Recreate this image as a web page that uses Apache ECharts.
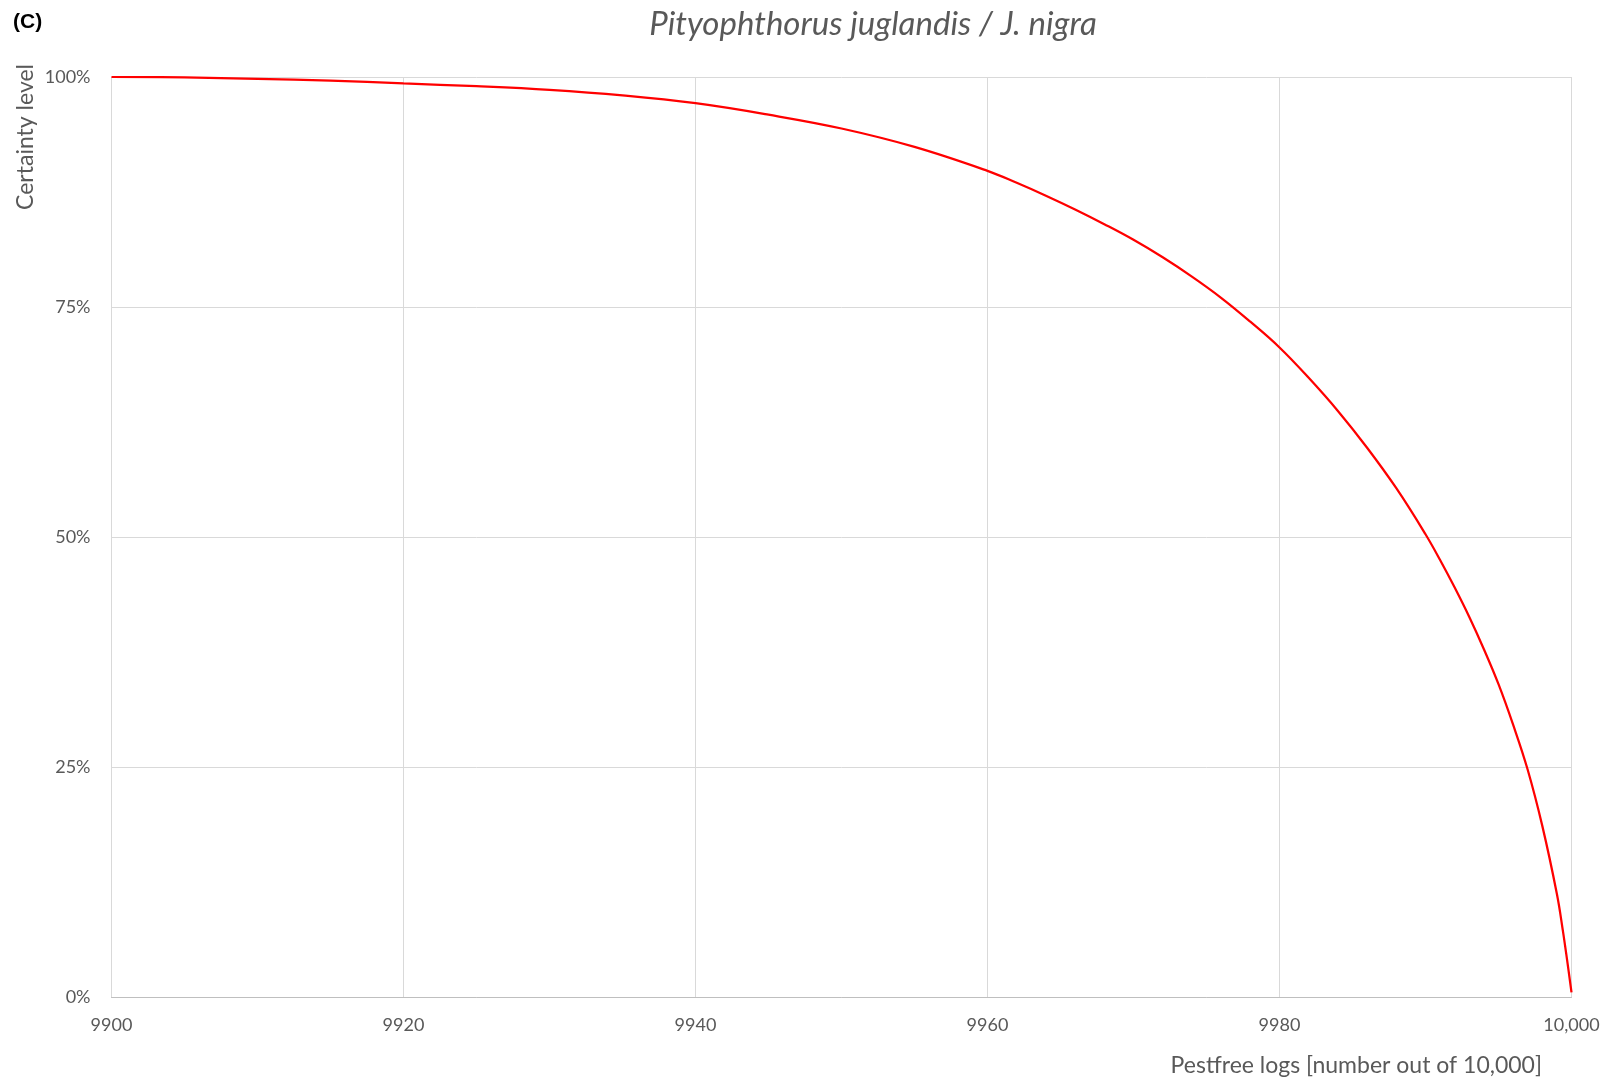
<!DOCTYPE html>
<html>
<head>
<meta charset="utf-8">
<script src="https://cdn.jsdelivr.net/npm/echarts@6/dist/echarts.min.js"></script>
<style>
html, body { margin: 0; padding: 0; background: #fff; }
#chart { width: 1610px; height: 1081px; }
</style>
</head>
<body>
<div id="chart"></div>
<script>
// 读图得到的数据
let pestfreeLogs = [9900, 9905, 9910, 9915, 9920, 9925, 9930, 9935, 9940, 9945, 9950, 9955, 9960, 9962, 9964, 9966, 9968, 9970, 9972, 9974, 9976, 9978, 9980, 9982, 9984, 9986, 9988, 9990, 9991, 9992, 9993, 9994, 9995, 9996, 9997, 9998, 9999, 9999.4, 9999.7, 10000];
let certainty = [100, 99.95, 99.8, 99.6, 99.3, 99.0, 98.6, 98.0, 97.15, 95.9, 94.4, 92.4, 89.8, 88.5, 87.1, 85.6, 84.0, 82.3, 80.4, 78.3, 76.0, 73.4, 70.6, 67.3, 63.7, 59.7, 55.3, 50.3, 47.5, 44.5, 41.3, 37.8, 34.0, 29.6, 24.7, 18.6, 11.2, 7.3, 4.0, 0.5];
let xTicks = [9900, 9920, 9940, 9960, 9980, 10000];
let yTicks = [0, 25, 50, 75, 100];

let chart = echarts.init(document.getElementById('chart'));
let seriesData = [];
for (let i = 0; i < pestfreeLogs.length; i++) {
    seriesData.push([pestfreeLogs[i], certainty[i]]);
}
let textColor = '#595959';
let option = {
    backgroundColor: '#fff',
    animation: false,
    title: {
        text: 'Pityophthorus juglandis / J. nigra',
        left: 868,
        top: 3,
        textAlign: 'center',
        textStyle: {
            color: textColor,
            fontFamily: 'Lato',
            fontStyle: 'italic',
            fontWeight: 'normal',
            fontSize: 33
        }
    },
    graphic: [
        {
            type: 'text',
            x: 13, y: 22,
            style: {
                text: '(C)',
                fill: '#000',
                font: 'bold 21px "Liberation Sans", Arial',
                align: 'left',
                verticalAlign: 'middle'
            }
        },
        {
            type: 'text',
            x: 26, y: 64,
            rotation: Math.PI / 2,
            style: {
                text: 'Certainty level',
                fill: textColor,
                font: '23px Lato',
                align: 'right',
                verticalAlign: 'middle'
            }
        },
        {
            type: 'text',
            x: 1542, y: 1066,
            style: {
                text: 'Pestfree logs [number out of 10,000]',
                fill: textColor,
                font: '23px Lato',
                align: 'right',
                verticalAlign: 'middle'
            }
        }
    ],
    grid: {
        left: 111.5,
        right: 38.5,
        top: 77,
        bottom: 84,
        containLabel: false
    },
    xAxis: {
        type: 'value',
        min: xTicks[0],
        max: xTicks[xTicks.length - 1],
        interval: 20,
        axisLine: { show: true, lineStyle: { color: '#bfbfbf', width: 1 } },
        axisTick: { show: false },
        axisLabel: {
            color: textColor,
            fontFamily: 'Lato',
            fontSize: 18,
            margin: 19,
            formatter: function (v) {
                return v >= 10000 ? v.toLocaleString('en-US') : String(v);
            }
        },
        splitLine: { show: true, lineStyle: { color: '#d9d9d9', width: 1 } }
    },
    yAxis: {
        type: 'value',
        min: yTicks[0],
        max: yTicks[yTicks.length - 1],
        interval: 25,
        axisLine: { show: false },
        axisTick: { show: false },
        axisLabel: {
            color: textColor,
            fontFamily: 'Lato',
            fontSize: 18,
            margin: 21,
            formatter: '{value}%'
        },
        splitLine: { show: true, lineStyle: { color: '#d9d9d9', width: 1 } }
    },
    series: [{
        type: 'line',
        data: seriesData,
        smooth: 0.4,
        symbol: 'none',
        lineStyle: { color: '#ff0000', width: 2.25 },
        z: 5
    }]
};
chart.setOption(option);
window.addEventListener('resize', function () {
    chart.resize();
});
</script>
</body>
</html>
